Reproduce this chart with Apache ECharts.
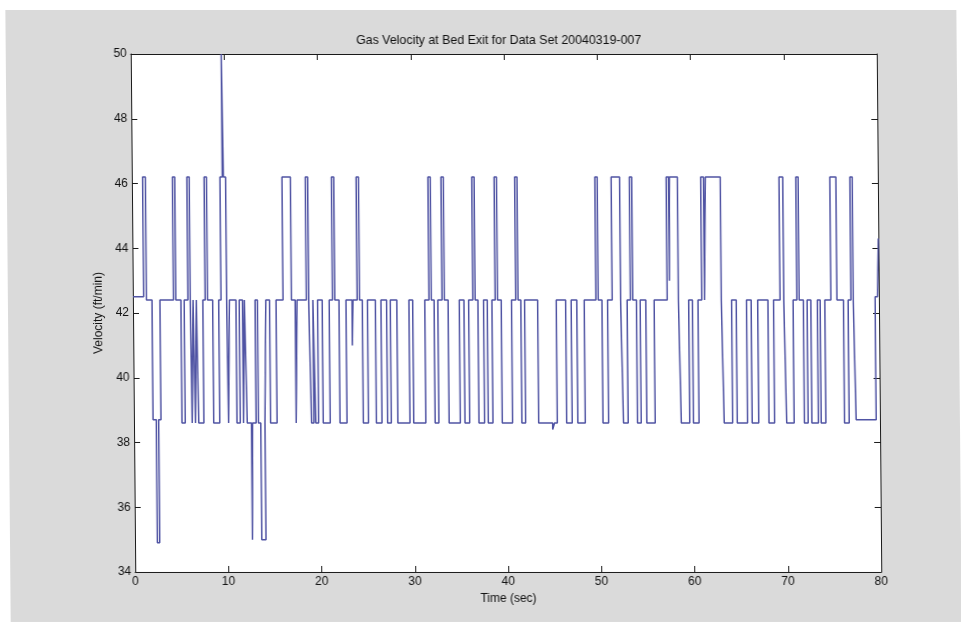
<!DOCTYPE html>
<html><head><meta charset="utf-8">
<script src="https://cdn.jsdelivr.net/npm/echarts@6/dist/echarts.min.js"></script>
<style>html,body{margin:0;padding:0;background:#fff;overflow:hidden}#c{width:961px;height:630px;transform:skewX(0.5deg);transform-origin:480px 313px}</style>
</head><body><div id="c"></div>
<script>
const titleText = 'Gas Velocity at Bed Exit for Data Set 20040319-007';
const xName = 'Time (sec)';
const yName = 'Velocity (ft/min)';
const xTickValues = [0, 10, 20, 30, 40, 50, 60, 70, 80];
const yTickValues = [34, 36, 38, 40, 42, 44, 46, 48, 50];
// time (s) at which the velocity changes, and the level (ft/min) held from then on
const changeTimes = [
  0, 1.15, 1.45, 2.05, 2.4, 2.65, 2.9, 4.35, 4.6, 5.15, 5.5, 5.9, 6.15, 6.25, 6.45, 6.6, 6.8,
  6.95, 7.5, 7.75, 8.0, 8.55, 9.2, 9.45, 9.7, 9.82, 10.05, 10.15, 10.35, 11.05, 11.4, 11.75, 11.95,
  12.15, 12.6, 12.72, 13.1, 13.35, 13.6, 14.05, 14.25, 14.65, 15.35, 16.1, 17.0, 17.4, 17.6,
  18.6, 18.85, 19.05, 19.3, 19.5, 19.8, 20.3, 21.05, 21.4, 21.65, 22.1, 22.85, 23.5, 23.6,
  24.05, 24.3, 24.6, 25.15, 26.0, 26.6, 27.2, 27.6, 28.3, 29.6, 30.0, 31.3, 31.75, 32.0,
  32.3, 32.7, 33.15, 33.4, 33.8, 35.0, 35.5, 36.0, 36.45, 36.7, 37.0, 37.6, 38.0, 38.5,
  38.85, 39.1, 39.5, 40.6, 41.05, 41.3, 41.6, 42.0, 43.4, 44.9, 45.1, 45.4, 46.4, 47.0, 47.6, 48.4,
  49.65, 49.9, 50.3, 50.9, 51.4, 52.3, 52.5, 53.0, 53.35, 53.6, 54.0, 54.4, 55.0, 55.9,
  57.3, 57.55, 57.65, 58.5, 58.7, 59.6, 60.0, 60.6, 61.0, 61.3, 61.5, 63.1, 63.3, 64.2,
  64.7, 65.8, 66.3, 67.0, 68.1, 68.7, 69.4, 69.8, 70.0, 70.8, 71.2, 71.45, 71.9, 72.3,
  72.7, 73.4, 73.7, 74.2, 74.85, 75.5, 76.2, 76.7, 77.0, 77.25, 77.45, 79.6, 79.85, 80
];
const velocityLevels = [
  42.5, 46.2, 42.4, 38.7, 34.9, 38.7, 42.4, 46.2, 42.4, 38.6, 42.4, 46.2, 42.4, 38.6, 42.4, 38.6, 42.4,
  38.6, 42.4, 46.2, 42.4, 38.6, 42.4, 46.2, 50.0, 46.2, 42.4, 38.6, 42.4, 38.6, 42.4, 38.6, 42.4,
  38.6, 35.0, 38.6, 42.4, 38.6, 35.0, 38.6, 42.4, 38.6, 42.4, 46.2, 42.4, 38.6, 42.4,
  46.2, 42.4, 38.6, 42.4, 38.6, 42.4, 38.6, 42.4, 46.2, 42.4, 38.6, 42.4, 41.0, 42.4,
  46.2, 42.4, 38.6, 42.4, 38.6, 42.4, 38.6, 42.4, 38.6, 42.4, 38.6, 42.4, 46.2, 42.4,
  38.6, 42.4, 46.2, 42.4, 38.6, 42.4, 38.6, 42.4, 46.2, 42.4, 38.6, 42.4, 38.6, 42.4,
  46.2, 42.4, 38.6, 42.4, 46.2, 42.4, 38.6, 42.4, 38.6, 38.4, 38.6, 42.4, 38.6, 42.4, 38.6, 42.4,
  46.2, 42.4, 38.6, 42.4, 46.2, 42.4, 38.6, 42.4, 46.2, 42.4, 38.6, 42.4, 38.6, 42.4,
  46.2, 43.0, 46.2, 42.4, 38.6, 42.4, 38.6, 42.4, 46.2, 42.4, 46.2, 42.4, 38.6, 42.4,
  38.6, 42.4, 38.6, 42.4, 38.6, 42.4, 46.2, 42.4, 38.6, 42.4, 46.2, 42.4, 38.6, 42.4,
  38.6, 42.4, 38.6, 42.4, 46.2, 42.4, 38.6, 42.4, 46.2, 42.4, 38.7, 42.5, 42.5, 44.3
];

const seriesData = changeTimes.map((t, i) => [t, velocityLevels[i]]);
const FONT = 'Liberation Sans, Arial, sans-serif';
const axisCol = '#1a1a1a';

const chart = echarts.init(document.getElementById('c'), null, {renderer: 'canvas'});
const baseX = {
  type: 'value', min: 0, max: 80, interval: 10,
  axisLine: {show: true, onZero: false, lineStyle: {color: axisCol, width: 1}},
  axisTick: {show: true, inside: true, length: 6, lineStyle: {color: axisCol}},
  splitLine: {show: false}
};
const baseY = {
  type: 'value', min: 34, max: 50, interval: 2,
  axisLine: {show: true, onZero: false, lineStyle: {color: axisCol, width: 1}},
  axisTick: {show: true, inside: true, length: 6, lineStyle: {color: axisCol}},
  splitLine: {show: false}
};
chart.setOption({
  backgroundColor: '#ffffff',
  animation: false,
  graphic: [
    {type: 'rect', z: -10, silent: true, shape: {x: 8, y: 10, width: 951, height: 612}, style: {fill: '#dadada'}},
    {type: 'text', z: 10, x: 501, y: 41, style: {text: titleText, font: '12.4px ' + FONT, fill: '#111', textAlign: 'center', textVerticalAlign: 'middle'}}
  ],
  grid: {left: 133, right: 82, top: 54, bottom: 58, show: true, backgroundColor: '#ffffff', borderWidth: 0, containLabel: false},
  xAxis: [
    Object.assign({}, baseX, {
      position: 'bottom',
      axisLabel: {show: true, fontSize: 12, fontFamily: FONT, color: '#111', margin: 4,
        formatter: v => xTickValues.includes(v) ? String(v) : ''},
      name: xName, nameLocation: 'middle', nameGap: 20,
      nameTextStyle: {fontSize: 12, fontFamily: FONT, color: '#111'}
    }),
    Object.assign({}, baseX, {position: 'top', axisLabel: {show: false}})
  ],
  yAxis: [
    Object.assign({}, baseY, {
      position: 'left',
      axisLabel: {show: true, fontSize: 12, fontFamily: FONT, color: '#111', margin: 4,
        formatter: v => yTickValues.includes(v) ? String(v) : ''},
      name: yName, nameLocation: 'middle', nameGap: 24, nameRotate: 90,
      nameTextStyle: {fontSize: 12, fontFamily: FONT, color: '#111'}
    }),
    Object.assign({}, baseY, {position: 'right', axisLabel: {show: false}})
  ],
  series: [{
    type: 'line', data: seriesData, step: 'end', showSymbol: false, symbol: 'none',
    lineStyle: {color: '#4f53a3', width: 1.5}, xAxisIndex: 0, yAxisIndex: 0, clip: true
  }]
});
</script>
</body></html>
